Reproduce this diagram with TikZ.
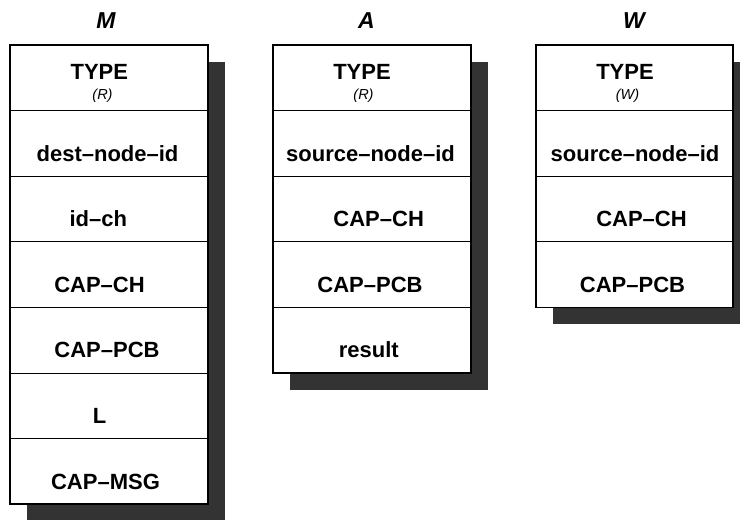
\documentclass[tikz,border=0pt]{standalone}
\usepackage{fontspec}
\setmainfont{Liberation Sans}
\begin{document}
\begin{tikzpicture}[x=1pt,y=-1pt,
	sombra/.style={fill=black!80},
	caja/.style={draw,line width=1.8pt,fill=white},
	linea/.style={line width=0.9pt},
	campo/.style={anchor=base,inner sep=0pt,font=\fontsize{22}{26}\selectfont\bfseries},
	modo/.style={anchor=base,inner sep=0pt,font=\fontsize{14.5}{17}\selectfont\itshape},
	titulo/.style={anchor=base,inner sep=0pt,font=\fontsize{23}{27}\selectfont\bfseries\itshape}]
		\useasboundingbox (0,0) rectangle (740,520);
		%Sombras
		\fill[sombra] (27,62) rectangle (225,521);
		\fill[sombra] (290,62) rectangle (488,390);
		\fill[sombra] (553,62) rectangle (750,324.4);
		%Caja M
		\draw[caja] (10,45) rectangle (208,504.2);
		\draw[linea] (10,110.6) -- (208,110.6);
		\draw[linea] (10,176.2) -- (208,176.2);
		\draw[linea] (10,241.8) -- (208,241.8);
		\draw[linea] (10,307.4) -- (208,307.4);
		\draw[linea] (10,373) -- (208,373);
		\draw[linea] (10,438.6) -- (208,438.6);
		%Caja A
		\draw[caja] (272.7,45) rectangle (470.7,373);
		\draw[linea] (272.7,110.6) -- (470.7,110.6);
		\draw[linea] (272.7,176.2) -- (470.7,176.2);
		\draw[linea] (272.7,241.8) -- (470.7,241.8);
		\draw[linea] (272.7,307.4) -- (470.7,307.4);
		%Caja W
		\draw[caja] (536,45) rectangle (733,307.4);
		\draw[linea] (536,110.6) -- (733,110.6);
		\draw[linea] (536,176.2) -- (733,176.2);
		\draw[linea] (536,241.8) -- (733,241.8);
		%Titulos
		\node[titulo] (tM) at (106,28.3) {M};
		\node[titulo] (tA) at (366.5,28.3) {A};
		\node[titulo] (tW) at (634,28.3) {W};
		%Texto M
		\node[campo] (m1) at (99.3,79.3) {TYPE};
		\node[modo] (m1r) at (102.5,99.5) {(R)};
		\node[campo] (m2) at (107.5,161.1) {dest\textendash node\textendash id};
		\node[campo] (m3) at (98.3,226.7) {id\textendash ch};
		\node[campo] (m4) at (99.5,292.3) {CAP\textendash CH};
		\node[campo] (m5) at (107,357.9) {CAP\textendash PCB};
		\node[campo] (m6) at (99.7,423.5) {L};
		\node[campo] (m7) at (105.5,489.1) {CAP\textendash MSG};
		%Texto A
		\node[campo] (a1) at (362,79.3) {TYPE};
		\node[modo] (a1r) at (363.5,99.5) {(R)};
		\node[campo] (a2) at (370.5,161.1) {source\textendash node\textendash id};
		\node[campo] (a3) at (378.7,226.7) {CAP\textendash CH};
		\node[campo] (a4) at (370,292.3) {CAP\textendash PCB};
		\node[campo] (a5) at (368.8,357.9) {result};
		%Texto W
		\node[campo] (w1) at (625,79.3) {TYPE};
		\node[modo] (w1r) at (627.5,99.5) {(W)};
		\node[campo] (w2) at (635,161.1) {source\textendash node\textendash id};
		\node[campo] (w3) at (641.5,226.7) {CAP\textendash CH};
		\node[campo] (w4) at (632.5,292.3) {CAP\textendash PCB};
\end{tikzpicture}
\end{document}
